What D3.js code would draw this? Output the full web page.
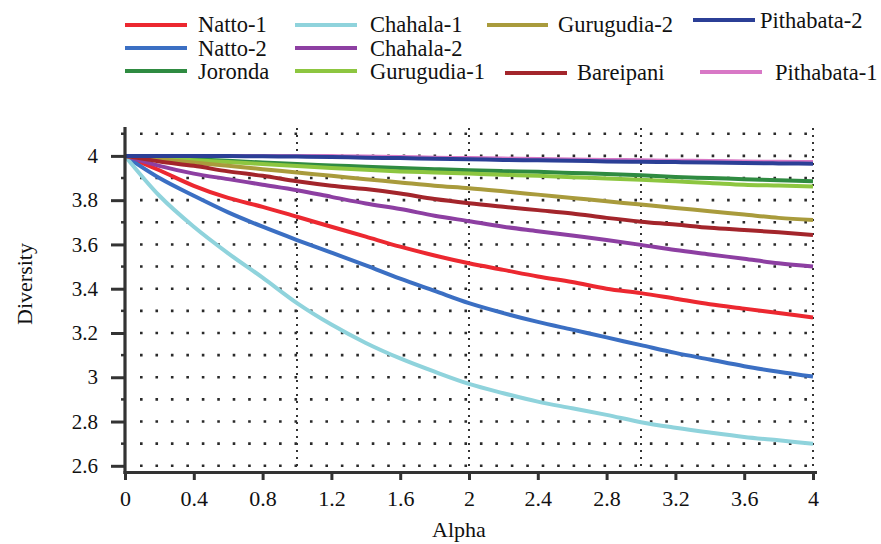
<!DOCTYPE html>
<html>
<head>
<meta charset="utf-8">
<script src="https://cdn.jsdelivr.net/npm/d3@7"></script>
<style>
  html, body { margin: 0; padding: 0; background: #fff; }
  svg { display: block; }
  svg text { font-family: "Liberation Serif", "Tinos", "Times New Roman", "DejaVu Serif", serif; fill: #111; }
</style>
</head>
<body>
<svg id="chart" width="881" height="544"></svg>
<script>
// ---------------- data ----------------
const alpha = [0, 0.2, 0.4, 0.6, 0.8, 1.0, 1.2, 1.4, 1.6, 1.8, 2.0, 2.2, 2.4, 2.6, 2.8, 3.0, 3.2, 3.4, 3.6, 3.8, 4.0];

const natto1     = [4, 3.935, 3.865, 3.81, 3.77, 3.725, 3.68, 3.635, 3.59, 3.55, 3.515, 3.485, 3.455, 3.43, 3.40, 3.38, 3.355, 3.33, 3.31, 3.29, 3.27];
const natto2     = [4, 3.90, 3.82, 3.745, 3.68, 3.62, 3.563, 3.505, 3.445, 3.39, 3.335, 3.29, 3.25, 3.215, 3.18, 3.145, 3.11, 3.08, 3.05, 3.025, 3.003];
const joronda    = [4, 3.993, 3.985, 3.978, 3.97, 3.963, 3.957, 3.951, 3.945, 3.94, 3.935, 3.931, 3.928, 3.923, 3.918, 3.912, 3.905, 3.90, 3.895, 3.89, 3.885];
const chahala1   = [4, 3.82, 3.68, 3.56, 3.45, 3.335, 3.238, 3.155, 3.085, 3.025, 2.97, 2.928, 2.89, 2.86, 2.83, 2.797, 2.772, 2.75, 2.73, 2.715, 2.70];
const chahala2   = [4, 3.955, 3.92, 3.895, 3.87, 3.845, 3.815, 3.785, 3.76, 3.73, 3.705, 3.68, 3.66, 3.64, 3.62, 3.598, 3.575, 3.555, 3.535, 3.515, 3.50];
const gurugudia1 = [4, 3.99, 3.98, 3.972, 3.963, 3.954, 3.945, 3.937, 3.93, 3.925, 3.92, 3.915, 3.91, 3.904, 3.898, 3.892, 3.885, 3.878, 3.87, 3.866, 3.862];
const gurugudia2 = [4, 3.985, 3.97, 3.955, 3.94, 3.925, 3.91, 3.895, 3.88, 3.865, 3.854, 3.84, 3.825, 3.81, 3.795, 3.78, 3.765, 3.75, 3.735, 3.72, 3.71];
const bareipani  = [4, 3.975, 3.955, 3.93, 3.91, 3.885, 3.865, 3.85, 3.83, 3.805, 3.786, 3.77, 3.755, 3.74, 3.72, 3.703, 3.69, 3.675, 3.665, 3.655, 3.643];
const pithabata1 = [4, 4.0, 4.0, 4.0, 4.0, 4.0, 3.999, 3.997, 3.995, 3.992, 3.99, 3.988, 3.986, 3.984, 3.982, 3.98, 3.978, 3.977, 3.975, 3.973, 3.972];
const pithabata2 = [4, 4.0, 4.0, 3.999, 3.998, 3.997, 3.995, 3.992, 3.99, 3.987, 3.985, 3.982, 3.98, 3.978, 3.975, 3.973, 3.972, 3.97, 3.968, 3.966, 3.965];

const seriesNames  = ["Natto-1", "Natto-2", "Joronda", "Chahala-1", "Chahala-2", "Gurugudia-1", "Gurugudia-2", "Bareipani", "Pithabata-1", "Pithabata-2"];
const seriesValues = [natto1, natto2, joronda, chahala1, chahala2, gurugudia1, gurugudia2, bareipani, pithabata1, pithabata2];

const xTicks = [0, 0.4, 0.8, 1.2, 1.6, 2, 2.4, 2.8, 3.2, 3.6, 4];
const xTickLabels = ["0", "0.4", "0.8", "1.2", "1.6", "2", "2.4", "2.8", "3.2", "3.6", "4"];
const yTicks = [2.6, 2.8, 3, 3.2, 3.4, 3.6, 3.8, 4];
const yTickLabels = ["2.6", "2.8", "3", "3.2", "3.4", "3.6", "3.8", "4"];
const yMinorTicks = [2.7, 2.9, 3.1, 3.3, 3.5, 3.7, 3.9, 4.1];
const yGridRows = [2.6, 2.7, 2.8, 2.9, 3.0, 3.1, 3.2, 3.3, 3.4, 3.5, 3.6, 3.7, 3.8, 3.9, 4.0, 4.1];
const xGridCols = [1, 2, 3, 4];

// ---------------- styles / layout ----------------
const FONT = '"Liberation Serif", "Tinos", "Times New Roman", "DejaVu Serif", serif';
const colors = {
  "Natto-1": "#ec2830", "Natto-2": "#3b6fc3", "Joronda": "#2f8b41",
  "Chahala-1": "#8fd3dc", "Chahala-2": "#8d3fa2", "Gurugudia-1": "#8dc640",
  "Gurugudia-2": "#a99b3c", "Bareipani": "#a3252b", "Pithabata-1": "#d878c6",
  "Pithabata-2": "#2b3f96"
};
// legend placement: [lineX1, lineX2, lineY, textX, textBaseline]
const legendLayout = {
  "Natto-1":     [125, 187, 25, 198, 32],
  "Natto-2":     [125, 187, 48, 198, 56],
  "Joronda":     [125, 187, 71, 198, 79],
  "Chahala-1":   [295, 357, 25, 370, 32],
  "Chahala-2":   [295, 357, 48, 370, 56],
  "Gurugudia-1": [295, 357, 71, 370, 79],
  "Gurugudia-2": [487, 548, 25, 558, 32],
  "Pithabata-2": [693, 755, 20, 760, 28],
  "Bareipani":   [505, 567, 73, 577, 80],
  "Pithabata-1": [700, 762, 72, 775, 80]
};

const svg = d3.select("#chart");
const x = d3.scaleLinear().domain([0, 4]).range([125, 813]);
const y = d3.scaleLinear().domain([2.572, 4.126]).range([472, 128]);

// ---------------- grid ----------------
const grid = svg.append("g");
grid.selectAll("line.hrow").data(yGridRows).join("line")
  .attr("x1", 140).attr("x2", 815)
  .attr("y1", d => y(d)).attr("y2", d => y(d))
  .attr("stroke", "#2a2a2a").attr("stroke-width", 2.6)
  .attr("stroke-dasharray", "2.6 12.85");
grid.selectAll("line.vcol").data(xGridCols).join("line")
  .attr("x1", d => x(d)).attr("x2", d => x(d))
  .attr("y1", 128).attr("y2", 472)
  .attr("stroke", "#333").attr("stroke-width", 2)
  .attr("stroke-dasharray", "2 5");

// ---------------- lines ----------------
const line = d3.line().x((d, i) => x(alpha[i])).y(d => y(d)).curve(d3.curveMonotoneX);
svg.append("g").selectAll("path").data(seriesNames).join("path")
  .attr("d", (n, i) => line(seriesValues[i]))
  .attr("fill", "none")
  .attr("stroke", n => colors[n])
  .attr("stroke-width", 4)
  .attr("stroke-linejoin", "round");

// ---------------- axes ----------------
const yAxis = svg.append("g").attr("transform", "translate(125,0)")
  .call(d3.axisLeft(y).tickValues(yTicks).tickSize(14).tickPadding(13)
        .tickFormat((d, i) => yTickLabels[i]));
yAxis.attr("font-family", FONT);
yAxis.select(".domain").remove();
yAxis.selectAll(".tick line").attr("stroke", "#333").attr("stroke-width", 3);
yAxis.selectAll(".tick text").attr("font-size", 21).attr("fill", "#111");
svg.append("g").selectAll("line").data(yMinorTicks).join("line")
  .attr("x1", 121).attr("x2", 125).attr("y1", d => y(d)).attr("y2", d => y(d))
  .attr("stroke", "#333").attr("stroke-width", 2.5);

const xAxis = svg.append("g").attr("transform", "translate(0,472)")
  .call(d3.axisBottom(x).tickValues(xTicks).tickSize(8).tickPadding(0)
        .tickFormat((d, i) => xTickLabels[i]));
xAxis.attr("font-family", FONT);
xAxis.select(".domain").remove();
xAxis.selectAll(".tick line").attr("stroke", "#333").attr("stroke-width", 3);
xAxis.selectAll(".tick text").attr("font-size", 22)
  .attr("fill", "#111").attr("y", 34).attr("dy", 0);

// axis lines
svg.append("line").attr("x1", 125).attr("x2", 125).attr("y1", 127).attr("y2", 474)
  .attr("stroke", "#333").attr("stroke-width", 3.2);
svg.append("line").attr("x1", 123.5).attr("x2", 817).attr("y1", 472.5).attr("y2", 472.5)
  .attr("stroke", "#333").attr("stroke-width", 3.2);

// axis titles
svg.append("text").attr("transform", "translate(32,284) rotate(-90)")
  .attr("text-anchor", "middle").attr("font-size", 22).text("Diversity");
svg.append("text").attr("x", 459).attr("y", 537)
  .attr("text-anchor", "middle").attr("font-size", 22).text("Alpha");

// ---------------- legend ----------------
const lg = svg.append("g").selectAll("g").data(seriesNames).join("g");
lg.append("line")
  .attr("x1", n => legendLayout[n][0]).attr("x2", n => legendLayout[n][1])
  .attr("y1", n => legendLayout[n][2]).attr("y2", n => legendLayout[n][2])
  .attr("stroke", n => colors[n]).attr("stroke-width", 4.2);
lg.append("text")
  .attr("x", n => legendLayout[n][3]).attr("y", n => legendLayout[n][4])
  .attr("font-size", 22.5).text(n => n);
</script>
</body>
</html>
